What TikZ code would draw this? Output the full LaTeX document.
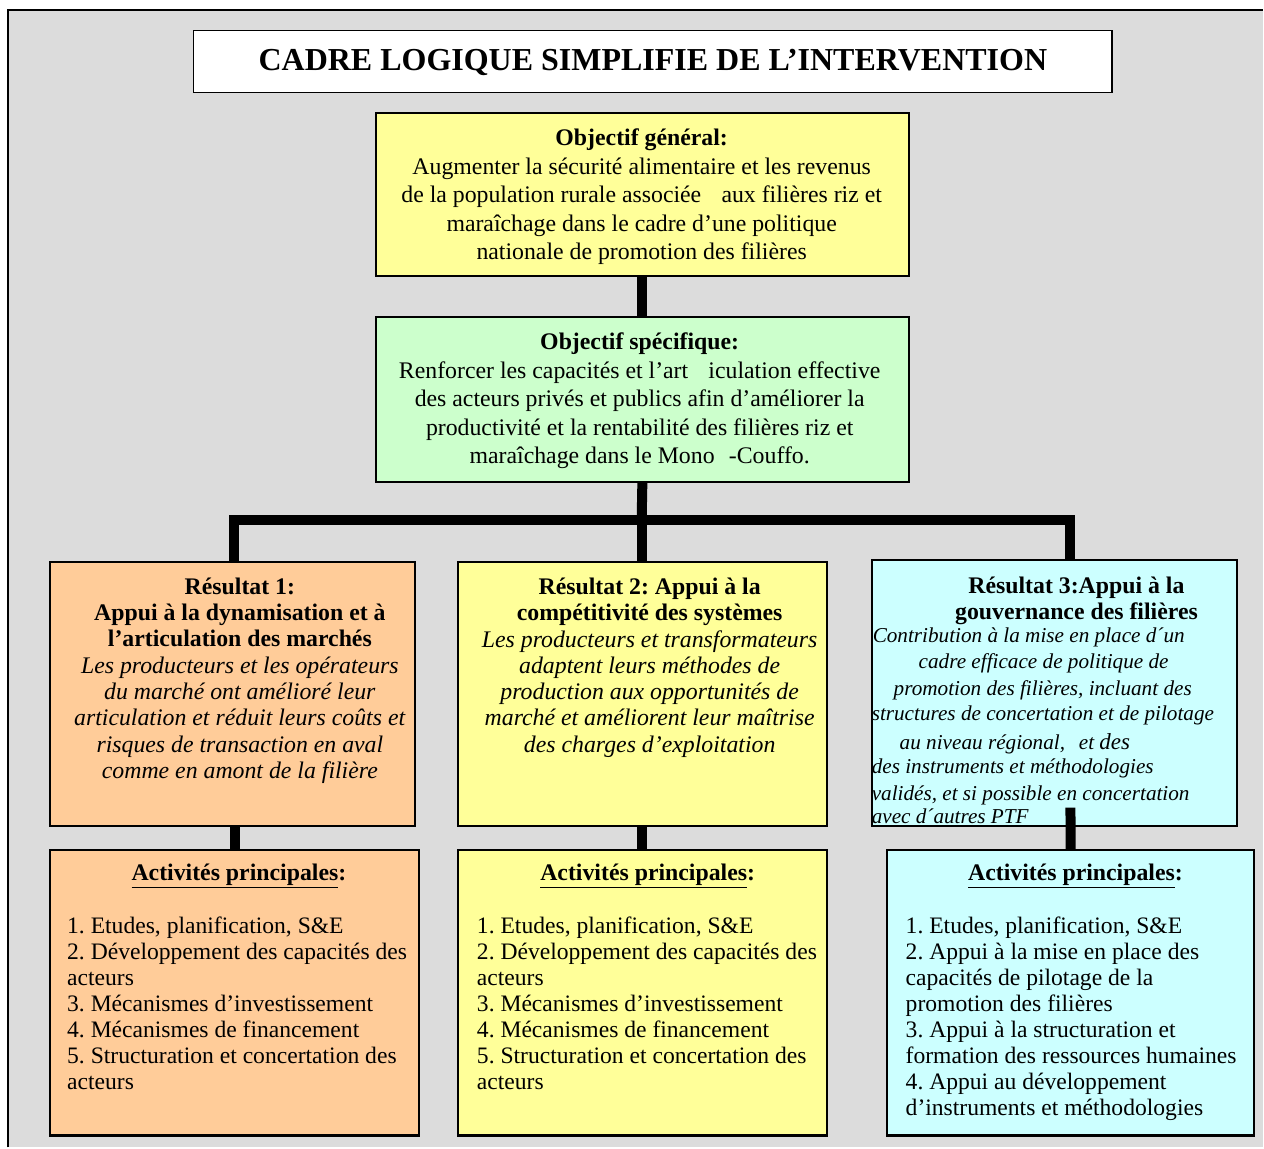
\documentclass[tikz,border=0pt]{standalone}
\usepackage{fontspec}
\setmainfont{Liberation Serif}
\usetikzlibrary{calc}
\definecolor{pagegray}{HTML}{DCDCDC}
\definecolor{cyellow}{HTML}{FFFF99}
\definecolor{cgreen}{HTML}{CCFFCC}
\definecolor{corange}{HTML}{FFCC99}
\definecolor{ccyan}{HTML}{CCFFFF}
\frenchspacing
\tikzset{
  box/.style={draw=black, line width=1.4pt, anchor=north west, inner sep=0pt},
  conn/.style={line width=10pt, line cap=butt, line join=miter},
  bodytext/.style={inner sep=0pt, font=\fontsize{23.8}{28.6}\selectfont},
  restext/.style={inner sep=0pt, align=center, font=\fontsize{23.8}{26.3}\selectfont},
  r3line/.style={inner sep=0pt, anchor=base west, font=\fontsize{21.2}{24}\selectfont\itshape},
  acthead/.style={inner sep=0pt, font=\fontsize{23.8}{26}\selectfont\bfseries},
  actlist/.style={inner sep=0pt, anchor=north west, align=left, font=\fontsize{23.6}{26.1}\selectfont},
}
\begin{document}
\begin{tikzpicture}[x=1pt, y=-1pt]
% page and frame
\fill[white] (0,0) rectangle (1264,1148);
\fill[pagegray] (8,10) rectangle (1264,1148);
\draw[line width=1.3pt] (8,1148) -- (8,10) -- (1264,10);
\useasboundingbox (0,0) rectangle (1264,1148);

% boxes
\node[box, fill=white, minimum width=919pt, minimum height=62pt] (title) at (193,30) {};
\node[box, fill=cyellow, minimum width=532pt, minimum height=162pt] (og) at (376,113) {};
\node[box, fill=cgreen, minimum width=532pt, minimum height=164pt] (os) at (376,317) {};
\node[box, fill=corange, minimum width=364pt, minimum height=263pt] (r1) at (50,562) {};
\node[box, fill=cyellow, minimum width=368pt, minimum height=263pt] (r2) at (458,562) {};
\node[box, fill=ccyan, minimum width=365pt, minimum height=265pt] (r3) at (872,560) {};
\node[box, fill=corange, minimum width=368pt, minimum height=285pt] (a1) at (50,850) {};
\node[box, fill=cyellow, minimum width=368pt, minimum height=285pt] (a2) at (458,850) {};
\node[box, fill=ccyan, minimum width=367pt, minimum height=285pt] (a3) at (887,850) {};

% connectors
\coordinate (hub) at (642,520);
\coordinate (barL) at (234,520);
\coordinate (barR) at (1071,520);
\coordinate (r3stub) at (1071,808);
\draw[conn] (og.south) -- (os.north);
\draw[conn] (os.south) -- (hub);
\draw[conn] (barL |- r1.north) -- (barL) -- (barR) -- (barR |- r3.north);
\draw[conn] (hub) -- (hub |- r2.north);
\draw[conn] (a1.north |- r1.south) -- (a1.north);
\draw[conn] (a2.north |- r2.south) -- (a2.north);

% box outlines drawn again over the connector ends
\foreach \b in {og,os,r1,r2,r3,a1,a2,a3}{
  \draw[line width=1.4pt] (\b.north west) rectangle (\b.south east);
}
% the third column's lower connector starts inside its result box
\draw[conn] (r3stub) -- (a3.north);

% title
\node[inner sep=0pt, font=\fontsize{32}{38}\selectfont\bfseries] (titlet) at ($(title.center)+(0,1)$) {CADRE LOGIQUE SIMPLIFIE DE L’INTERVENTION};

% general objective
\node[bodytext, align=center] (ogt) at (642,197) {\textbf{Objectif général:}\\
Augmenter la sécurité alimentaire et les revenus\\
de la population rurale associée\hspace{0.6em} aux filières riz et\\
maraîchage dans le cadre d’une politique\\
nationale de promotion des filières};

% specific objective
\node[bodytext, align=center] (ost) at (640,401) {\textbf{Objectif spécifique:}\\
Renforcer les capacités et l’art\hspace{0.6em} iculation effective\\
des acteurs privés et publics afin d’améliorer la\\
productivité et la rentabilité des filières riz et\\
maraîchage dans le Mono\hspace{0.6em}-Couffo.};

% results
\node[restext] (r1t) at (240,681) {\textbf{Résultat 1:}\\
\textbf{Appui à la dynamisation et à}\\
\textbf{l’articulation des marchés}\\
\textit{Les producteurs et les opérateurs}\\
\textit{du marché ont amélioré leur}\\
\textit{articulation et réduit leurs coûts et}\\
\textit{risques de transaction en aval}\\
\textit{comme en amont de la filière}};

\node[restext] (r2t) at (650,668) {\textbf{Résultat 2: Appui à la}\\
\textbf{compétitivité des systèmes}\\
\textit{Les producteurs et transformateurs}\\
\textit{adaptent leurs méthodes de}\\
\textit{production aux opportunités de}\\
\textit{marché et améliorent leur maîtrise}\\
\textit{des charges d’exploitation}};

\node[restext] (r3h) at (1077,601) {\textbf{Résultat 3:Appui à la}\\
\textbf{gouvernance des filières}};
\node[r3line] (r3a) at (873,643) {Contribution à la mise en place d´un};
\node[r3line] (r3b) at (919,669) {cadre efficace de politique de};
\node[r3line] (r3c) at (894,696) {promotion des filières, incluant des};
\node[r3line] (r3d) at (872,721) {structures de concertation et de pilotage};
\node[r3line] (r3e) at (900,750) {au niveau régional,\hspace{0.4em} et \fontsize{23}{24}\selectfont des};
\node[r3line] (r3f) at (872,774) {des instruments et méthodologies};
\node[r3line] (r3g) at (872,801) {validés, et si possible en concertation};
\node[r3line] (r3h2) at (872,824) {avec d´autres PTF};

% main activities
\node[acthead] (a1h) at (239,876) {\underline{Activités principales}:};
\node[acthead] (a2h) at (648,876) {\underline{Activités principales}:};
\node[acthead] (a3h) at (1076,876) {\underline{Activités principales}:};

\node[actlist] (a1l) at (67,917) {1. Etudes, planification, S\&E\\
2. Développement des capacités des\\
acteurs\\
3. Mécanismes d’investissement\\
4. Mécanismes de financement\\
5. Structuration et concertation des\\
acteurs};

\node[actlist] (a2l) at (477,917) {1. Etudes, planification, S\&E\\
2. Développement des capacités des\\
acteurs\\
3. Mécanismes d’investissement\\
4. Mécanismes de financement\\
5. Structuration et concertation des\\
acteurs};

\node[actlist] (a3l) at (906,917) {1. Etudes, planification, S\&E\\
2. Appui à la mise en place des\\
capacités de pilotage de la\\
promotion des filières\\
3. Appui à la structuration et\\
formation des ressources humaines\\
4. Appui au développement\\
d’instruments et méthodologies};
\end{tikzpicture}
\end{document}
